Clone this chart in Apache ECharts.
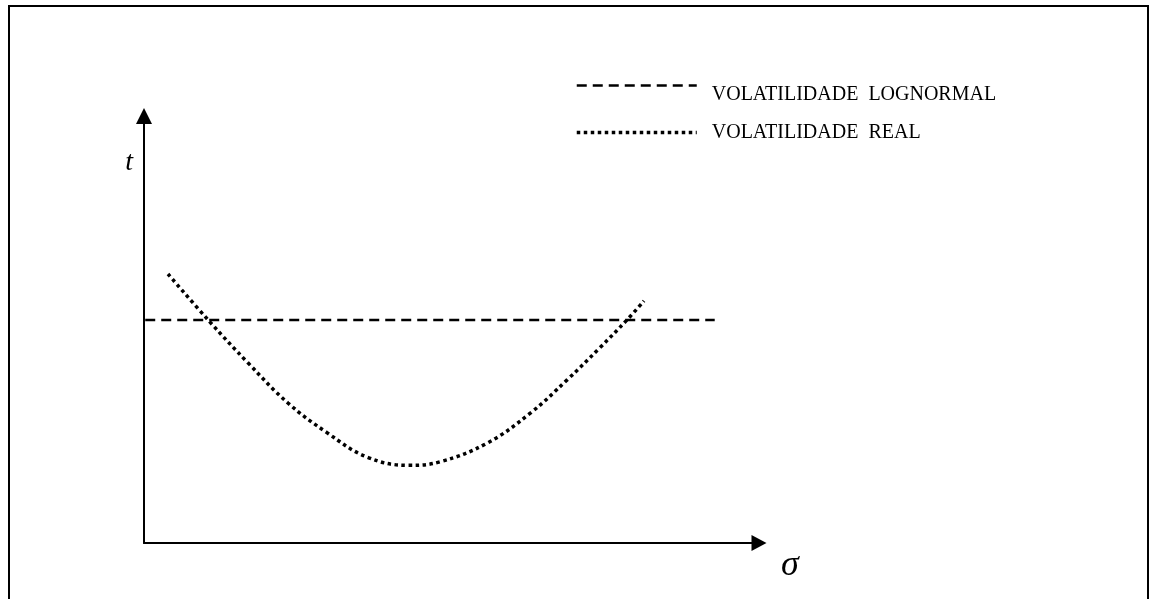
<!DOCTYPE html>
<html>
<head>
<meta charset="utf-8">
<script src="https://cdn.jsdelivr.net/npm/echarts@6/dist/echarts.min.js"></script>
<style>
    html, body { margin: 0; padding: 0; background: #fff; }
    #chart { width: 1153px; height: 599px; }
</style>
</head>
<body>
<div id="chart"></div>
<script>
// 数据：横轴 σ，纵轴 t（0~10 的相对刻度）
var seriesNames = ['VOLATILIDADE  LOGNORMAL', 'VOLATILIDADE  REAL'];

// 对数正态波动率：水平虚线
var lognormalX = [0.02, 9.28];
var lognormalY = [5.22, 5.22];

// 实际波动率：U 形点线
var realX = [0.39, 1.07, 1.69, 2.34, 2.98, 3.63, 4.30, 4.81, 5.58, 6.28, 6.88, 7.41, 7.85, 8.13];
var realY = [6.30, 5.18, 4.22, 3.28, 2.58, 2.01, 1.82, 1.90, 2.34, 3.04, 3.82, 4.57, 5.22, 5.67];

function zip(xs, ys) {
    return xs.map(function (x, i) { return [x, ys[i]]; });
}

var myChart = echarts.init(document.getElementById('chart'));
var serif = '"Liberation Serif", "DejaVu Serif", serif';
var dashType = [10, 6];
var dotType = [3.5, 3.5];

var option = {
    animation: false,
    backgroundColor: '#fff',
    // 外框
    graphic: [{
        type: 'rect',
        shape: { x: 9, y: 6, width: 1139, height: 700 },
        style: { fill: 'none', stroke: '#000', lineWidth: 2 },
        silent: true
    }],
    legend: {
        orient: 'vertical',
        left: 575,
        top: 80,
        padding: 0,
        itemWidth: 120,
        itemHeight: 14,
        itemGap: 18,
        data: [{
            name: seriesNames[0],
            lineStyle: { color: '#000', width: 2.5, type: dashType },
            itemStyle: { opacity: 0 }
        }, {
            name: seriesNames[1],
            lineStyle: { color: '#000', width: 3.5, type: dotType },
            itemStyle: { opacity: 0 }
        }],
        formatter: function (name) {
            // 第一行文字比图例线略低
            return name === seriesNames[0] ? '{lo|' + name + '}' : '{re|' + name + '}';
        },
        textStyle: {
            color: '#000',
            fontFamily: serif,
            fontSize: 20,
            rich: {
                lo: { color: '#000', fontFamily: serif, fontSize: 20, padding: [18, 0, 0, 10] },
                re: { color: '#000', fontFamily: serif, fontSize: 20, padding: [0, 0, 0, 10] }
            }
        }
    },
    grid: {
        left: 144,
        top: 116,
        right: 394,
        bottom: 56,
        containLabel: false
    },
    xAxis: {
        type: 'value',
        min: 0,
        max: 10,
        name: 'σ',
        nameLocation: 'end',
        nameGap: 22,
        nameTextStyle: {
            color: '#000',
            fontFamily: serif,
            fontStyle: 'italic',
            fontSize: 36,
            align: 'left',
            verticalAlign: 'top',
            padding: [5, 0, 0, 0]
        },
        axisLine: {
            onZero: false,
            symbol: ['none', 'triangle'],
            symbolSize: [16, 15],
            lineStyle: { color: '#000', width: 2 }
        },
        axisTick: { show: false },
        axisLabel: { show: false },
        splitLine: { show: false }
    },
    yAxis: {
        type: 'value',
        min: 0,
        max: 10,
        name: 't',
        nameLocation: 'end',
        nameGap: -47,
        nameTextStyle: {
            color: '#000',
            fontFamily: serif,
            fontStyle: 'italic',
            fontSize: 28,
            align: 'right',
            verticalAlign: 'middle',
            padding: [0, 11, 0, 0]
        },
        axisLine: {
            onZero: false,
            symbol: ['none', 'triangle'],
            symbolSize: [16, 16],
            lineStyle: { color: '#000', width: 2 }
        },
        axisTick: { show: false },
        axisLabel: { show: false },
        splitLine: { show: false }
    },
    series: [{
        name: seriesNames[0],
        type: 'line',
        symbol: 'none',
        data: zip(lognormalX, lognormalY),
        lineStyle: { color: '#000', width: 2.5, type: dashType },
        itemStyle: { color: '#000' },
        z: 2
    }, {
        name: seriesNames[1],
        type: 'line',
        symbol: 'none',
        smooth: 0.4,
        data: zip(realX, realY),
        lineStyle: { color: '#000', width: 3.5, type: dotType },
        itemStyle: { color: '#000' },
        z: 3
    }]
};

myChart.setOption(option);
</script>
</body>
</html>
